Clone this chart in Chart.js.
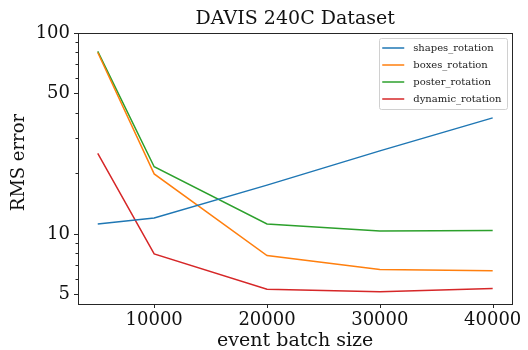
<!DOCTYPE html>
<html>
<head>
<meta charset="utf-8">
<script src="https://cdn.jsdelivr.net/npm/chart.js@4"></script>
<style>
  html, body { margin: 0; padding: 0; background: #fff; }
  #wrap { width: 528px; height: 350px; }
</style>
</head>
<body>
<div id="wrap"><canvas id="c"></canvas></div>
<script>
// values
const batchSizes      = [5000, 10000, 20000, 30000, 40000];
const shapesRotation  = [11.2, 12.0, 17.5, 25.9, 37.8];
const boxesRotation   = [80, 19.9, 7.8, 6.65, 6.55];
const posterRotation  = [81, 21.6, 11.2, 10.35, 10.4];
const dynamicRotation = [25.2, 7.95, 5.3, 5.15, 5.35];

const seriesNames  = ["shapes_rotation", "boxes_rotation", "poster_rotation", "dynamic_rotation"];
const seriesValues = [shapesRotation, boxesRotation, posterRotation, dynamicRotation];
const seriesColors = ["#1f77b4", "#ff7f0e", "#2ca02c", "#d62728"];

const xTickValues  = [10000, 20000, 30000, 40000];
const yMajorTicks  = [5, 10, 50, 100];
const yMinorTicks  = [6, 7, 8, 9, 20, 30, 40, 60, 70, 80, 90];

const chartTitle = "DAVIS 240C Dataset";
const xTitle = "event batch size";
const yTitle = "RMS error";

const FONT = "'DejaVu Serif', serif";
const AXIS_COLOR = "#262626";
const TEXT_COLOR = "#111";

// box round the plot, tick marks (major/minor lengths differ), titles
const framePlugin = {
  id: "frame",
  afterDraw(chart) {
    const { ctx, chartArea: a, scales } = chart;
    ctx.save();
    ctx.strokeStyle = AXIS_COLOR;
    ctx.lineWidth = 1;
    ctx.strokeRect(Math.round(a.left) + 0.5, Math.round(a.top) + 0.5,
                   Math.round(a.right - a.left), Math.round(a.bottom - a.top));
    ctx.beginPath();
    const ys = scales.y, xs = scales.x;
    const tick = (v, len) => {
      const py = Math.round(ys.getPixelForValue(v)) + 0.5;
      ctx.moveTo(a.left, py); ctx.lineTo(a.left - len, py);
    };
    yMajorTicks.forEach((v) => tick(v, 4));
    yMinorTicks.forEach((v) => tick(v, 2.5));
    xTickValues.forEach((v) => {
      const px = Math.round(xs.getPixelForValue(v)) + 0.5;
      ctx.moveTo(px, a.bottom); ctx.lineTo(px, a.bottom + 4);
    });
    ctx.stroke();

    // titles, centred on the plot area like matplotlib does
    const cx = (a.left + a.right) / 2;
    const cy = (a.top + a.bottom) / 2;
    ctx.fillStyle = TEXT_COLOR;
    ctx.textAlign = "center";
    ctx.textBaseline = "middle";
    ctx.font = "19px " + FONT;
    ctx.fillText(chartTitle, cx, 19);
    ctx.fillText(xTitle, cx, 341);
    ctx.save();
    ctx.translate(19, cy - 6);
    ctx.rotate(-Math.PI / 2);
    ctx.font = "18px " + FONT;
    ctx.fillText(yTitle, 0, 0);
    ctx.restore();
    ctx.restore();
  },
};

// matplotlib-style legend inside the upper right corner
const legendPlugin = {
  id: "mplLegend",
  afterDraw(chart) {
    const { ctx, chartArea: a } = chart;
    const sets = chart.data.datasets;
    ctx.save();
    ctx.font = "10px " + FONT;
    const textW = Math.max(...sets.map((d) => ctx.measureText(d.label).width));
    const rowH = 17;
    const w = 34 + textW + 6;
    const h = rowH * sets.length + 3;
    const right = a.right - 5, top = a.top + 5;
    const left = right - w;
    ctx.fillStyle = "rgba(255,255,255,0.8)";
    ctx.strokeStyle = "#d0d0d0";
    ctx.lineWidth = 1;
    ctx.beginPath();
    ctx.roundRect(Math.round(left) + 0.5, Math.round(top) + 0.5, Math.round(w), Math.round(h), 2);
    ctx.fill();
    ctx.stroke();
    ctx.textBaseline = "middle";
    sets.forEach((d, i) => {
      const cy = top + 10 + i * rowH;
      ctx.strokeStyle = d.borderColor;
      ctx.lineWidth = 1.5;
      ctx.beginPath();
      ctx.moveTo(left + 3, cy); ctx.lineTo(left + 25, cy);
      ctx.stroke();
      ctx.fillStyle = "#222";
      ctx.fillText(d.label, left + 34, cy);
    });
    ctx.restore();
  },
};

const datasets = seriesNames.map((name, i) => ({
  label: name,
  data: batchSizes.map((x, j) => ({ x, y: seriesValues[i][j] })),
  borderColor: seriesColors[i],
  backgroundColor: seriesColors[i],
  borderWidth: 1.5,
  pointRadius: 0,
  tension: 0,
  fill: false,
}));

new Chart(document.getElementById("c"), {
  type: "line",
  data: { datasets },
  plugins: [framePlugin, legendPlugin],
  options: {
    responsive: true,
    maintainAspectRatio: false,
    animation: false,
    layout: { padding: { left: 0, right: 15, top: 33, bottom: 0 } },
    plugins: {
      legend: { display: false },
      tooltip: { enabled: false },
      title: { display: false },
    },
    scales: {
      x: {
        type: "linear",
        min: 3250,
        max: 41750,
        afterBuildTicks: (s) => { s.ticks = xTickValues.map((v) => ({ value: v })); },
        afterFit: (s) => { s.height = 46; },
        ticks: {
          autoSkip: false,
          maxRotation: 0,
          color: TEXT_COLOR,
          padding: 6,
          font: { family: FONT, size: 18 },
          callback: (v) => String(v),
        },
        grid: { display: false, drawTicks: false },
        border: { display: false },
        title: { display: false },
      },
      y: {
        type: "logarithmic",
        min: 4.48,
        max: 100,
        afterBuildTicks: (s) => { s.ticks = yMajorTicks.map((v) => ({ value: v })); },
        afterFit: (s) => { s.width = 78; },
        ticks: {
          autoSkip: false,
          color: TEXT_COLOR,
          padding: 8,
          font: { family: FONT, size: 18 },
          callback: (v) => String(v),
        },
        grid: { display: false, drawTicks: false },
        border: { display: false },
        title: { display: false },
      },
    },
  },
});
</script>
</body>
</html>
